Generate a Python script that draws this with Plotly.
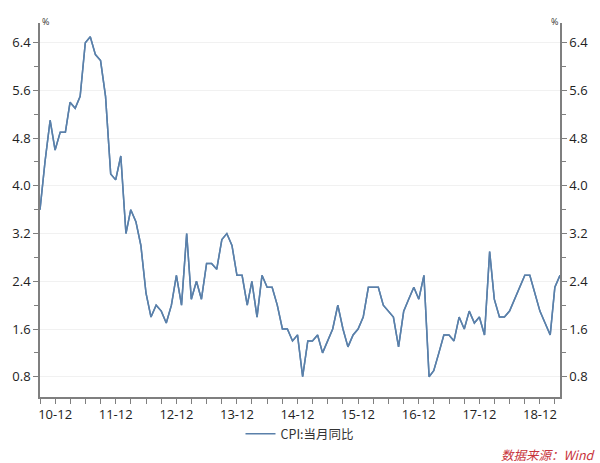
import plotly.graph_objects as go
import pandas as pd

start_month = "2010-09-01"
cpi_values = [
    3.6, 4.4, 5.1, 4.6,
    4.9, 4.9, 5.4, 5.3, 5.5, 6.4, 6.5, 6.2, 6.1, 5.5, 4.2, 4.1,
    4.5, 3.2, 3.6, 3.4, 3.0, 2.2, 1.8, 2.0, 1.9, 1.7, 2.0, 2.5,
    2.0, 3.2, 2.1, 2.4, 2.1, 2.7, 2.7, 2.6, 3.1, 3.2, 3.0, 2.5,
    2.5, 2.0, 2.4, 1.8, 2.5, 2.3, 2.3, 2.0, 1.6, 1.6, 1.4, 1.5,
    0.8, 1.4, 1.4, 1.5, 1.2, 1.4, 1.6, 2.0, 1.6, 1.3, 1.5, 1.6,
    1.8, 2.3, 2.3, 2.3, 2.0, 1.9, 1.8, 1.3, 1.9, 2.1, 2.3, 2.1,
    2.5, 0.8, 0.9, 1.2, 1.5, 1.5, 1.4, 1.8, 1.6, 1.9, 1.7, 1.8,
    1.5, 2.9, 2.1, 1.8, 1.8, 1.9, 2.1, 2.3, 2.5, 2.5, 2.2, 1.9,
    1.7, 1.5, 2.3, 2.5,
]
dates = pd.date_range(start_month, periods=len(cpi_values), freq="MS")
series_name = "CPI:当月同比"
source_text = "数据来源：Wind"

y_tickvals = [0.8, 1.6, 2.4, 3.2, 4.0, 4.8, 5.6, 6.4]
y_range = [0.46, 6.73]

x_tickvals = pd.date_range("2010-09-01", "2019-03-01", freq="3MS")
x_ticktext = [d.strftime("%y-%m") if d.month == 12 else "" for d in x_tickvals]

axis_color = "#7f7f7f"
line_color = "#5a80aa"
tick_font = dict(family="Open Sans, Noto Sans, sans-serif", size=13, color="#222222")

fig = go.Figure()
fig.add_trace(go.Scatter(
    x=dates, y=cpi_values, mode="lines", name=series_name,
    line=dict(color=line_color, width=1.5),
))
fig.add_trace(go.Scatter(
    x=dates, y=cpi_values, mode="lines", yaxis="y2", showlegend=False,
    line=dict(color=line_color, width=1.5), hoverinfo="skip",
))

fig.update_layout(
    width=600, height=463,
    margin=dict(l=30, r=27, t=23, b=66),
    paper_bgcolor="white", plot_bgcolor="white",
    showlegend=True,
    legend=dict(orientation="h", x=0.5, xanchor="center", y=-0.099, yanchor="middle",
                font=dict(family="Noto Sans CJK SC, sans-serif", size=12.5, color="#333333"),
                itemwidth=30, bgcolor="rgba(0,0,0,0)"),
    xaxis=dict(
        type="date", range=[dates[0], dates[-1]],
        tickvals=list(x_tickvals), ticktext=x_ticktext,
        ticks="outside", ticklen=5, tickcolor=axis_color, tickwidth=1,
        showline=True, linecolor=axis_color, linewidth=1.5,
        showgrid=False, zeroline=False, tickfont=tick_font,
    ),
    yaxis=dict(
        range=y_range, tickvals=y_tickvals, tickformat=".1f",
        ticks="outside", ticklen=5, tickcolor=axis_color,
        showline=True, linecolor=axis_color, linewidth=1.5,
        showgrid=True, gridcolor="#f1f1f1", gridwidth=1, zeroline=False,
        tickfont=tick_font,
        minor=dict(dtick=0.4, tick0=0.0, ticks="outside", ticklen=4, tickcolor=axis_color, showgrid=False),
    ),
    yaxis2=dict(
        range=y_range, tickvals=y_tickvals, tickformat=".1f",
        overlaying="y", side="right",
        ticks="outside", ticklen=5, tickcolor=axis_color,
        showline=True, linecolor=axis_color, linewidth=1.5,
        showgrid=False, zeroline=False, tickfont=tick_font,
        minor=dict(dtick=0.4, tick0=0.0, ticks="outside", ticklen=4, tickcolor=axis_color, showgrid=False),
    ),
    annotations=[
        dict(text="%", xref="paper", yref="paper", x=0, y=1, xanchor="left", yanchor="bottom",
             showarrow=False, font=dict(size=9, color="#333333"), yshift=-7),
        dict(text="%", xref="paper", yref="paper", x=1, y=1, xanchor="right", yanchor="bottom",
             showarrow=False, font=dict(size=9, color="#333333"), yshift=-7),
        dict(text="<i>" + source_text + "</i>", xref="paper", yref="paper", x=0.882, y=-0.155,
             xanchor="left", yanchor="middle", showarrow=False,
             font=dict(family="Noto Sans CJK SC, sans-serif", size=12.5, color="#c8343c")),
    ],
)

fig.write_html("out.html")
